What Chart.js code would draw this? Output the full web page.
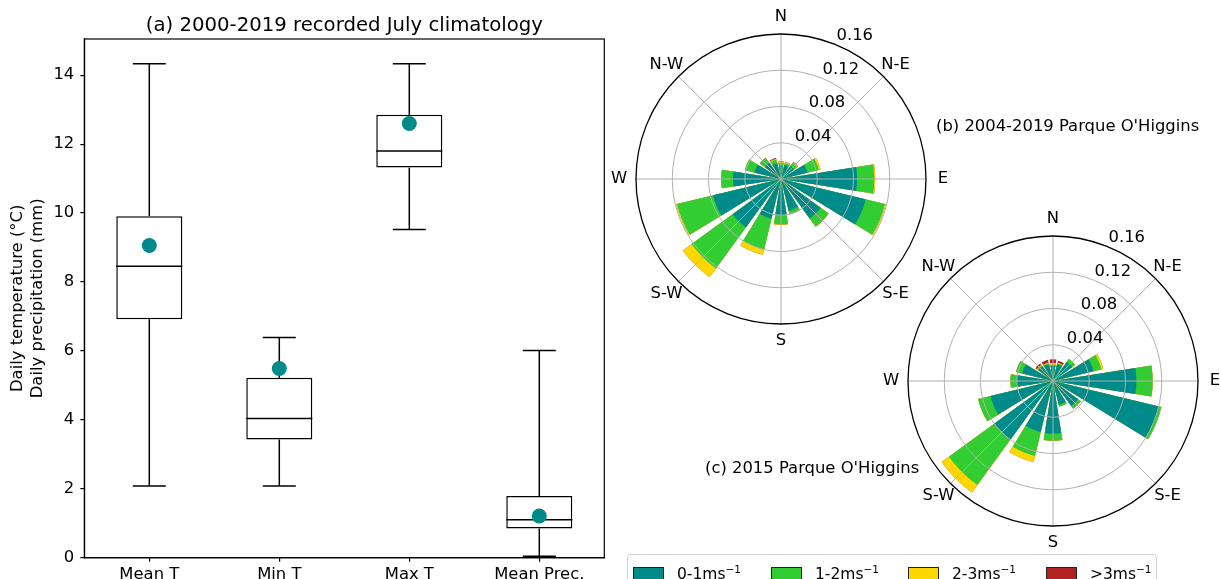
<!DOCTYPE html>
<html>
<head>
<meta charset="utf-8">
<script src="https://cdn.jsdelivr.net/npm/chart.js@4.4.1/dist/chart.umd.min.js"></script>
<style>
    html, body { margin: 0; padding: 0; background: #fff; overflow: hidden; }
    body { width: 1220px; height: 579px; position: relative; font-family: 'DejaVu Sans', sans-serif; color: #000; }
    canvas { position: absolute; }
    .lbl { position: absolute; font-size: 16.4px; white-space: nowrap; }
    #legend { position: absolute; left: 627px; top: 554px; width: 530px; height: 40px;
              border: 1px solid #d0d0d0; border-radius: 4px; box-sizing: border-box; font-size: 15.5px; }
    .item { position: absolute; top: 10px; }
    .sw { position: absolute; top: 2px; width: 29px; height: 11px; border: 1px solid #222; }
    .item span.t { position: absolute; left: 44px; top: -2px; white-space: nowrap; }
    sup { font-size: 10.5px; vertical-align: 6px; }
</style>
</head>
<body>
<canvas id="boxChart" width="620" height="600" style="left:0;top:0"></canvas>
<canvas id="rose1" width="360" height="360" style="left:601px;top:-1px"></canvas>
<canvas id="rose2" width="360" height="360" style="left:873px;top:201px"></canvas>
<div class="lbl" style="left:936px;top:116px">(b) 2004-2019 Parque O'Higgins</div>
<div class="lbl" style="left:705px;top:458px">(c) 2015 Parque O'Higgins</div>
<div id="legend"></div>

<script>
// ---- box plot data (a) ----
const boxCategories = ['Mean T', 'Min T', 'Max T', 'Mean Prec.'];
const boxLow    = [2.08, 2.08, 9.52, 0.04];
const boxQ1     = [6.92, 3.43, 11.32, 0.85];
const boxMedian = [8.46, 4.04, 11.80, 1.10];
const boxQ3     = [9.91, 5.22, 12.85, 1.79];
const boxHigh   = [14.33, 6.39, 14.33, 6.01];
const boxMean   = [9.06, 5.49, 12.60, 1.21];
const yTicks    = [0, 2, 4, 6, 8, 10, 12, 14];

// ---- wind rose data (b), (c): frequency per direction and speed class ----
const windDirs = ['N', 'NNE', 'NE', 'ENE', 'E', 'ESE', 'SE', 'SSE', 'S', 'SSW', 'SW', 'WSW', 'W', 'WNW', 'NW', 'NNW'];
const speedClasses = ['0-1', '1-2', '2-3', '>3'];
const speedColors = ['#008b8b', '#32cd32', '#ffd700', '#b22222'];
const rTicks = [0.04, 0.08, 0.12, 0.16];
const compassLabels = ['N', 'N-E', 'E', 'S-E', 'S', 'S-W', 'W', 'N-W'];

const rose1Speed01 = [0.015, 0.016, 0.018, 0.030, 0.084, 0.096, 0.054, 0.036, 0.040, 0.045, 0.066, 0.077, 0.053, 0.030, 0.022, 0.018];
const rose1Speed12 = [0.003, 0.002, 0.004, 0.013, 0.019, 0.022, 0.011, 0.004, 0.010, 0.035, 0.056, 0.041, 0.013, 0.011, 0.007, 0.004];
const rose1Speed23 = [0.001, 0.001, 0.001, 0.002, 0.001, 0.001, 0.000, 0.000, 0.0005, 0.006, 0.012, 0.001, 0.000, 0.000, 0.000, 0.001];
const rose1Speed3p = [0.0005, 0.0005, 0.0005, 0.000, 0.000, 0.000, 0.000, 0.000, 0.000, 0.000, 0.000, 0.000, 0.000, 0.000, 0.000, 0.001];

const rose2Speed01 = [0.017, 0.019, 0.026, 0.046, 0.092, 0.120, 0.034, 0.027, 0.058, 0.058, 0.080, 0.071, 0.040, 0.035, 0.020, 0.019];
const rose2Speed12 = [0.001, 0.001, 0.004, 0.009, 0.018, 0.003, 0.004, 0.002, 0.008, 0.027, 0.062, 0.014, 0.007, 0.007, 0.001, 0.001];
const rose2Speed23 = [0.002, 0.001, 0.000, 0.002, 0.000, 0.000, 0.000, 0.000, 0.000, 0.007, 0.010, 0.000, 0.000, 0.000, 0.001, 0.001];
const rose2Speed3p = [0.004, 0.002, 0.000, 0.000, 0.000, 0.000, 0.000, 0.000, 0.000, 0.000, 0.000, 0.000, 0.000, 0.000, 0.002, 0.003];

const FONT = "'DejaVu Sans', sans-serif";
const FS = 16.4;
Chart.defaults.font.family = FONT;
Chart.defaults.color = '#000';

// whiskers, caps and medians, drawn right after the boxes
const boxExtras = {
    id: 'boxExtras',
    afterDatasetDraw(chart, args) {
        if (args.meta.type !== 'bar') return;
        const { ctx, scales: { x, y } } = chart;
        ctx.save();
        ctx.strokeStyle = '#000';
        ctx.lineWidth = 1.5;
        args.meta.data.forEach((bar, i) => {
            const cx = x.getPixelForValue(i);
            const hw = bar.width / 2;
            const seg = (x0, y0, x1, y1) => { ctx.beginPath(); ctx.moveTo(x0, y0); ctx.lineTo(x1, y1); ctx.stroke(); };
            seg(cx, y.getPixelForValue(boxHigh[i]), cx, y.getPixelForValue(boxQ3[i]));
            seg(cx, y.getPixelForValue(boxLow[i]), cx, y.getPixelForValue(boxQ1[i]));
            seg(cx - hw / 2, y.getPixelForValue(boxHigh[i]), cx + hw / 2, y.getPixelForValue(boxHigh[i]));
            seg(cx - hw / 2, y.getPixelForValue(boxLow[i]), cx + hw / 2, y.getPixelForValue(boxLow[i]));
            seg(cx - hw, y.getPixelForValue(boxMedian[i]), cx + hw, y.getPixelForValue(boxMedian[i]));
        });
        ctx.restore();
    },
    afterDraw(chart) {
        const { ctx, chartArea: a } = chart;
        ctx.save();
        ctx.strokeStyle = '#000';
        ctx.lineWidth = 1.2;
        ctx.strokeRect(a.left, a.top, a.right - a.left, a.bottom - a.top);
        ctx.font = '19.7px ' + FONT;
        ctx.textAlign = 'center';
        ctx.textBaseline = 'alphabetic';
        ctx.fillText('(a) 2000-2019 recorded July climatology', (a.left + a.right) / 2, 31);
        ctx.restore();
    }
};

new Chart(document.getElementById('boxChart'), {
    type: 'bar',
    data: {
        labels: boxCategories,
        datasets: [
            {
                type: 'line',
                data: boxMean,
                showLine: false,
                pointRadius: 7.5,
                pointBackgroundColor: '#008b8b',
                pointBorderWidth: 0
            },
            {
                type: 'bar',
                data: boxQ1.map((v, i) => [v, boxQ3[i]]),
                backgroundColor: '#ffffff',
                borderColor: '#000',
                borderWidth: 1.5,
                borderSkipped: false,
                barPercentage: 0.508,
                categoryPercentage: 1
            }
        ]
    },
    options: {
        responsive: false,
        animation: false,
        events: [],
        layout: { padding: { top: 39, right: 15.7, left: 0, bottom: 0 } },
        plugins: { legend: { display: false }, tooltip: { enabled: false } },
        scales: {
            x: {
                offset: true,
                grid: { drawOnChartArea: false, offset: false, tickLength: 4, color: '#000', lineWidth: 1.2 },
                border: { color: '#000', width: 1.2 },
                ticks: { font: { size: FS }, padding: 3, maxRotation: 0 },
                afterFit: s => { s.height = 42.3; }
            },
            y: {
                min: 0,
                max: 15.05,
                afterBuildTicks: s => { s.ticks = yTicks.map(v => ({ value: v })); },
                grid: { drawOnChartArea: false, tickLength: 4, color: '#000', lineWidth: 1.2 },
                border: { color: '#000', width: 1.2 },
                ticks: { font: { size: FS }, padding: 6 },
                title: {
                    display: true,
                    text: ['Daily temperature (\u00B0C)', 'Daily precipitation (mm)'],
                    font: { size: FS },
                    padding: { top: 8, bottom: 0 }
                },
                afterFit: s => { s.width = 84.3; }
            }
        }
    },
    plugins: [boxExtras]
});

// ---- wind roses ----
function roseData(layers) {
    let cum = windDirs.map(() => 0);
    const datasets = layers.map((vals, k) => {
        cum = cum.map((c, i) => c + vals[i]);
        const data = [];
        cum.forEach(v => data.push(v, 0)); // bar, then an empty gap sector
        return {
            label: speedClasses[k],
            data,
            backgroundColor: speedColors[k],
            borderWidth: 0,
            angle: ctx => (ctx.dataIndex % 2 === 0 ? 18 : 4.5)
        };
    });
    return { labels: windDirs.flatMap(d => [d, '']), datasets };
}

const roseGrid = {
    id: 'roseGrid',
    afterDatasetsDraw(chart) {
        const { ctx } = chart;
        const r = chart.scales.r;
        const cx = r.xCenter, cy = r.yCenter;
        const at = (deg, dist) => {
            const t = deg * Math.PI / 180;
            return [cx + dist * Math.sin(t), cy - dist * Math.cos(t)];
        };
        const outer = r.getDistanceFromCenterForValue(rTicks[rTicks.length - 1]);
        ctx.save();
        ctx.lineWidth = 1;
        ctx.strokeStyle = '#b0b0b0';
        rTicks.slice(0, -1).forEach(v => {
            ctx.beginPath();
            ctx.arc(cx, cy, r.getDistanceFromCenterForValue(v), 0, Math.PI * 2);
            ctx.stroke();
        });
        compassLabels.forEach((_, k) => {
            const [px, py] = at(k * 45, outer);
            ctx.beginPath(); ctx.moveTo(cx, cy); ctx.lineTo(px, py); ctx.stroke();
        });
        ctx.strokeStyle = '#000';
        ctx.lineWidth = 1.3;
        ctx.beginPath();
        ctx.arc(cx, cy, outer, 0, Math.PI * 2);
        ctx.stroke();

        ctx.fillStyle = '#000';
        ctx.font = FS + 'px ' + FONT;
        ctx.textAlign = 'center';
        ctx.textBaseline = 'middle';
        compassLabels.forEach((lab, k) => {
            const [px, py] = at(k * 45, outer + 17);
            ctx.fillText(lab, px, py);
        });
        ctx.textAlign = 'left';
        ctx.textBaseline = 'alphabetic';
        rTicks.forEach(v => {
            const [px, py] = at(22.5, r.getDistanceFromCenterForValue(v));
            ctx.fillText(v.toFixed(2), px, py - 5);
        });
        ctx.restore();
    }
};

function makeRose(id, layers) {
    return new Chart(document.getElementById(id), {
        type: 'polarArea',
        data: roseData(layers),
        options: {
            responsive: false,
            animation: false,
            events: [],
            layout: { padding: 35 },
            plugins: { legend: { display: false }, tooltip: { enabled: false } },
            scales: {
                r: {
                    min: 0,
                    max: 0.16,
                    startAngle: -9,
                    ticks: { display: false, stepSize: 0.04 },
                    grid: { display: false },
                    angleLines: { display: false },
                    pointLabels: { display: false }
                }
            }
        },
        plugins: [roseGrid]
    });
}

makeRose('rose1', [rose1Speed01, rose1Speed12, rose1Speed23, rose1Speed3p]);
makeRose('rose2', [rose2Speed01, rose2Speed12, rose2Speed23, rose2Speed3p]);

// ---- shared legend ----
const legendLeft = [5, 143, 280, 418];
const legend = document.getElementById('legend');
speedClasses.forEach((s, k) => {
    const it = document.createElement('div');
    it.className = 'item';
    it.style.left = legendLeft[k] + 'px';
    it.innerHTML = '<div class="sw" style="background:' + speedColors[k] + '"></div>' +
        '<span class="t">' + s + 'ms<sup>\u22121</sup></span>';
    legend.appendChild(it);
});
</script>
</body>
</html>
